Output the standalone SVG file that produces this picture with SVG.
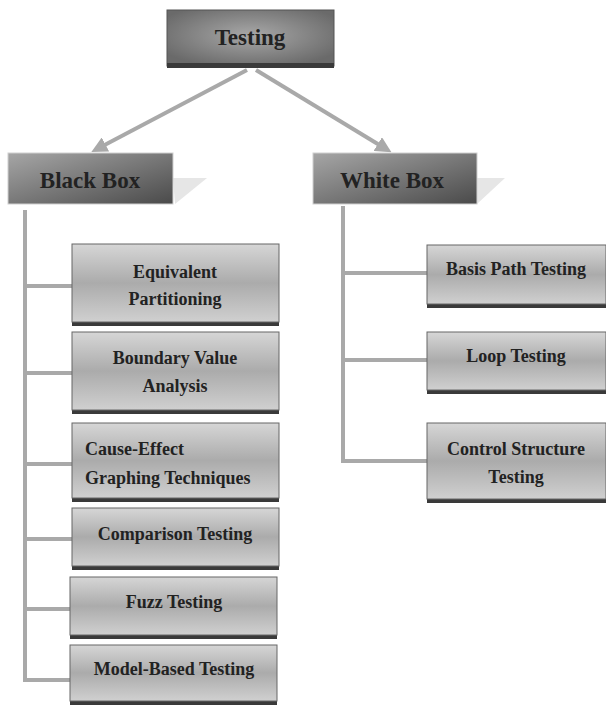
<svg xmlns="http://www.w3.org/2000/svg" width="606" height="706" viewBox="0 0 606 706">
<defs>
<style>
.t{font-family:"Liberation Serif","Times New Roman",serif;font-weight:bold;fill:#222;text-anchor:middle}
.s{font-size:18px}
.big{font-size:23px}
.con{stroke:#a9a9a9;stroke-width:4;fill:none}
.leaf{fill:url(#gLeaf);stroke:#666;stroke-width:1}
.sh{fill:#3a3a3a}
.br{fill:url(#gBr);stroke:#d0d0d0;stroke-width:1}
.ghost{fill:#e6e6e6}
</style>
<linearGradient id="gLeaf" x1="0" y1="0" x2="0" y2="1">
<stop offset="0" stop-color="#d6d6d6"/>
<stop offset="0.5" stop-color="#ababab"/>
<stop offset="1" stop-color="#d0d0d0"/>
</linearGradient>
<linearGradient id="gBr" x1="0" y1="0" x2="1" y2="1">
<stop offset="0" stop-color="#a6a6a6"/>
<stop offset="1" stop-color="#4a4a4a"/>
</linearGradient>
<radialGradient id="gTop" cx="0.5" cy="0.45" r="0.6">
<stop offset="0" stop-color="#a8a8a8"/>
<stop offset="1" stop-color="#6a6a6a"/>
</radialGradient>
<marker id="ah" viewBox="0 0 10 10" refX="6" refY="5" markerWidth="4" markerHeight="4" orient="auto" markerUnits="strokeWidth">
<path d="M0,0 L10,5 L0,10 z" fill="#a9a9a9"/>
</marker>
</defs>

<g id="connectors">
<line class="con" x1="247" y1="70" x2="97" y2="149" marker-end="url(#ah)"/>
<line class="con" x1="256" y1="70" x2="386" y2="149" marker-end="url(#ah)"/>
<polyline class="con" points="25,210 25,680 72,680"/>
<line class="con" x1="25" y1="286" x2="72" y2="286"/>
<line class="con" x1="25" y1="373" x2="72" y2="373"/>
<line class="con" x1="25" y1="464" x2="72" y2="464"/>
<line class="con" x1="25" y1="539" x2="72" y2="539"/>
<line class="con" x1="25" y1="609" x2="72" y2="609"/>
<polyline class="con" points="343,206 343,461 427,461"/>
<line class="con" x1="343" y1="273" x2="427" y2="273"/>
<line class="con" x1="343" y1="360" x2="427" y2="360"/>
</g>

<g id="testing">
<rect x="167" y="10" width="167" height="56" fill="url(#gTop)" stroke="#555" stroke-width="1"/>
<rect class="sh" x="167" y="63" width="167" height="5"/>
<text class="t big" x="250" y="45">Testing</text>
</g>

<g id="black-box">
<polygon class="ghost" points="173,178 207,178 175,204"/>
<rect class="br" x="8" y="153" width="165" height="51"/>
<text class="t big" x="90" y="188">Black Box</text>
</g>

<g id="white-box">
<polygon class="ghost" points="477,178 505,178 477,204"/>
<rect class="br" x="313" y="153" width="164" height="51"/>
<text class="t big" x="392" y="188">White Box</text>
</g>

<g id="equivalent-partitioning">
<rect class="sh" x="72" y="248" width="207" height="78"/>
<rect class="leaf" x="72" y="244" width="207" height="78"/>
<text class="t s" x="175" y="278">Equivalent</text>
<text class="t s" x="175" y="305">Partitioning</text>
</g>

<g id="boundary-value-analysis">
<rect class="sh" x="72" y="336" width="207" height="78"/>
<rect class="leaf" x="72" y="332" width="207" height="78"/>
<text class="t s" x="175" y="364">Boundary Value</text>
<text class="t s" x="175" y="392">Analysis</text>
</g>

<g id="cause-effect">
<rect class="sh" x="72" y="427" width="207" height="75"/>
<rect class="leaf" x="72" y="423" width="207" height="75"/>
<text class="t s" x="85" y="455" style="text-anchor:start">Cause-Effect</text>
<text class="t s" x="85" y="484" style="text-anchor:start">Graphing Techniques</text>
</g>

<g id="comparison-testing">
<rect class="sh" x="72" y="512" width="207" height="58"/>
<rect class="leaf" x="72" y="508" width="207" height="58"/>
<text class="t s" x="175" y="540">Comparison Testing</text>
</g>

<g id="fuzz-testing">
<rect class="sh" x="70" y="581" width="207" height="58"/>
<rect class="leaf" x="70" y="577" width="207" height="58"/>
<text class="t s" x="174" y="608">Fuzz Testing</text>
</g>

<g id="model-based-testing">
<rect class="sh" x="70" y="648" width="207" height="57"/>
<rect class="leaf" x="70" y="645" width="207" height="56"/>
<text class="t s" x="174" y="675">Model-Based Testing</text>
</g>

<g id="basis-path-testing">
<rect class="sh" x="427" y="249" width="179" height="59"/>
<rect class="leaf" x="427" y="245" width="179" height="59"/>
<text class="t s" x="516" y="275">Basis Path Testing</text>
</g>

<g id="loop-testing">
<rect class="sh" x="427" y="336" width="179" height="58"/>
<rect class="leaf" x="427" y="332" width="179" height="58"/>
<text class="t s" x="516" y="362">Loop Testing</text>
</g>

<g id="control-structure-testing">
<rect class="sh" x="427" y="427" width="179" height="76"/>
<rect class="leaf" x="427" y="423" width="179" height="76"/>
<text class="t s" x="516" y="455">Control Structure</text>
<text class="t s" x="516" y="483">Testing</text>
</g>
</svg>
